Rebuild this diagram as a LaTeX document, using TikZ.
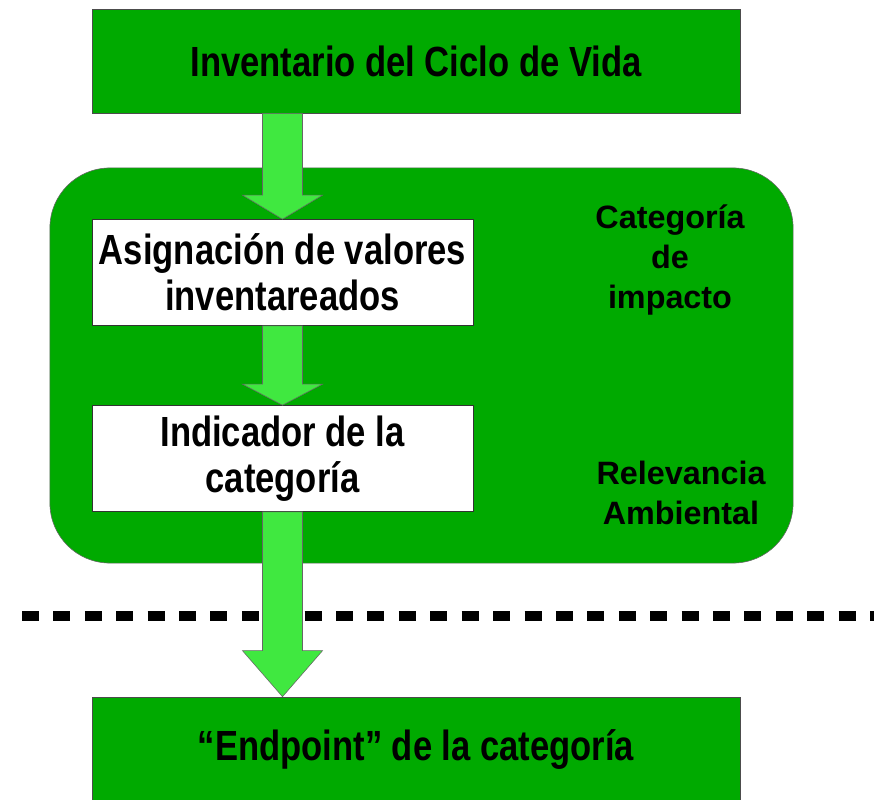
\documentclass[tikz,border=0pt]{standalone}
\usepackage{fontspec}
\usetikzlibrary{calc}
\newfontfamily\boxfont[FakeStretch=0.82]{Liberation Sans}
\newfontfamily\sidefont{Liberation Sans}
\definecolor{dkgreen}{RGB}{0,170,0}
\definecolor{ltgreen}{RGB}{64,232,64}
\def\shaft{20}
\def\headw{40}
\def\fatarrow#1#2#3{\draw[arr] ($(#1)+(-\shaft,0)$) -- ($(#2)+(-\shaft,-#3)$) -- ($(#2)+(-\headw,-#3)$) -- (#2) -- ($(#2)+(\headw,-#3)$) -- ($(#2)+(\shaft,-#3)$) -- ($(#1)+(\shaft,0)$) -- cycle;}

\begin{document}
\begin{tikzpicture}[
	x=0.025cm, y=-0.025cm,
	greenbox/.style={rectangle,draw=black!70,fill=dkgreen,minimum width=16.2cm,minimum height=2.6cm,font=\boxfont\bfseries\fontsize{30}{33}\selectfont,align=center,inner sep=0pt},
	whitebox/.style={rectangle,draw=black!80,fill=white,minimum width=9.525cm,minimum height=2.65cm,font=\boxfont\bfseries\fontsize{30}{33}\selectfont,align=center,inner sep=0pt},
	frame/.style={rectangle,rounded corners=1.5cm,draw=black!60,fill=dkgreen,minimum width=18.575cm,minimum height=9.875cm},
	side/.style={font=\sidefont\bfseries\fontsize{23}{28.5}\selectfont,align=center},
	arr/.style={draw=black!60,fill=ltgreen,thin},
	cut/.style={line width=0.25cm,dash pattern=on 0.425cm off 0.36cm}
	]
	\useasboundingbox (0,0) rectangle (874,800);
	
	\node[frame] (impacto) at (421.5,365.5) {};
	\node[side] (categ) at (670,260) {Categoría\\de\\impacto};
	\node[side] (relev) at (681,493) {Relevancia\\Ambiental};
	
	\node[greenbox] (icv) at (416,61) {Inventario del Ciclo de Vida};
	\node[whitebox] (asig) at (282.5,272.5) {Asignación de valores\\inventareados};
	\node[whitebox] (indic) at (282.5,458.5) {Indicador de la\\categoría};
	\node[greenbox] (endp) at (416,749) {“Endpoint” de la categoría};
	
	\coordinate (cutl) at (22,616);
	\coordinate (cutr) at (880,616);
	\draw[cut] (cutl) -- (cutr);
	
	\fatarrow{icv.south -| asig.north}{asig.north}{24}
	\fatarrow{asig.south}{indic.north}{21}
	\fatarrow{indic.south}{endp.north -| indic.south}{46}
\end{tikzpicture}
\end{document}
